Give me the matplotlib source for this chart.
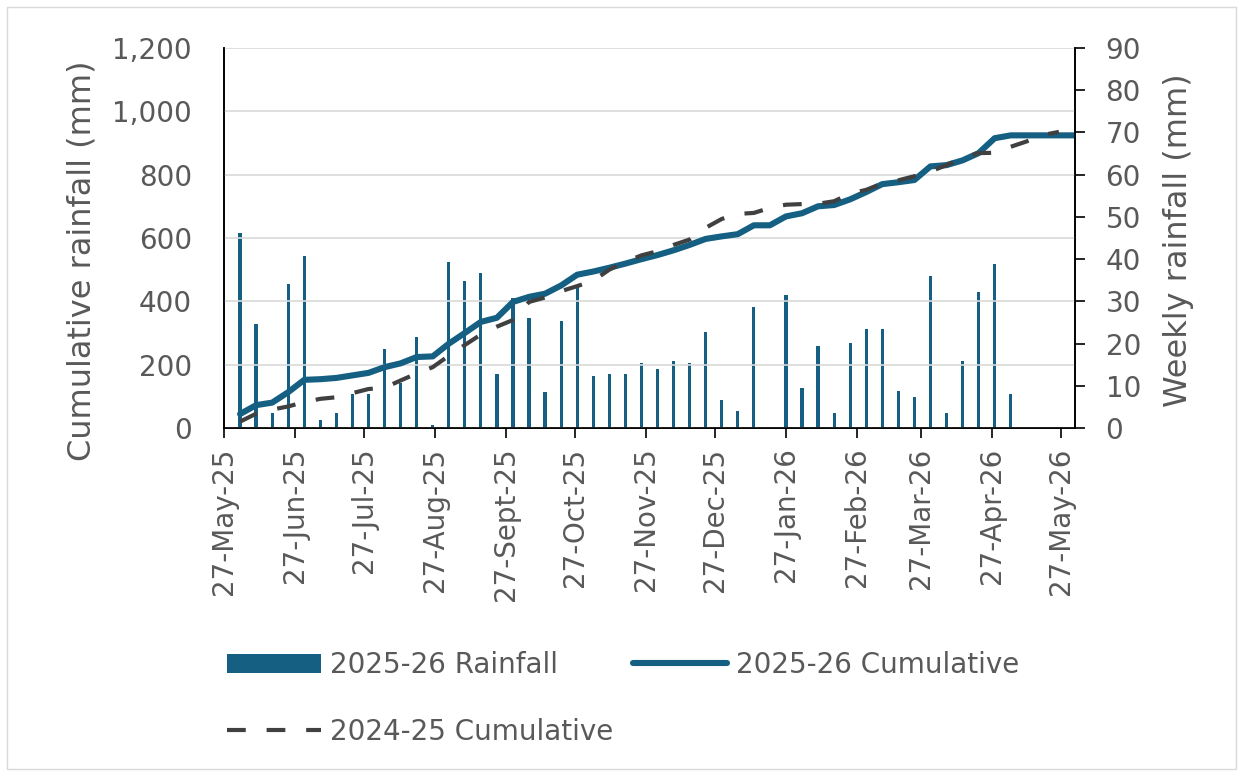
import matplotlib
matplotlib.use('Agg')
import matplotlib.pyplot as plt
import matplotlib.ticker as mticker
import pandas as pd
from matplotlib.patches import Rectangle

# semanas (martes) de la temporada 2025-26
semanas = pd.date_range('2025-06-03', periods=53, freq='7D')

lluvia_2526 = [46.1, 24.6, 3.5, 34.1, 40.8, 2.0, 3.5, 8.0, 8.0, 18.7,
               10.6, 21.5, 0.7, 39.4, 34.8, 36.8, 12.8, 30.7, 26.0, 8.6,
               25.4, 33.9, 12.2, 12.7, 12.7, 15.3, 14.0, 15.9, 15.3, 22.7,
               6.6, 4.0, 28.7, 0.0, 31.4, 9.4, 19.4, 3.5, 20.1, 23.5,
               23.5, 8.8, 7.4, 36.1, 3.5, 15.9, 32.2, 38.8, 8.1]

acum_2526 = [44, 72, 80, 113, 152, 154, 158, 166, 174, 192,
             204, 224, 226, 266, 300, 335, 348, 398, 414, 424,
             450, 484, 494, 506, 519, 533, 546, 561, 578, 597,
             605, 612, 640, 640, 668, 678, 700, 704, 722, 745,
             770, 776, 783, 826, 830, 845, 868, 915, 924, 924,
             924, 924, 924]

acum_2425 = [20, 45, 58, 68, 82, 92, 97, 110, 123, 127,
             150, 172, 192, 228, 262, 295, 320, 341, 398, 412,
             432, 448, 465, 500, 525, 545, 558, 578, 595, 632,
             660, 676, 679, 695, 705, 707, 708, 716, 740, 752,
             772, 782, 795, 810, 830, 852, 868, 869, 888, 905,
             925, 935]

fechas_ticks = ['2025-05-27', '2025-06-27', '2025-07-27', '2025-08-27', '2025-09-27',
                '2025-10-27', '2025-11-27', '2025-12-27', '2026-01-27', '2026-02-27',
                '2026-03-27', '2026-04-27', '2026-05-27']
etiquetas_ticks = ['27-May-25', '27-Jun-25', '27-Jul-25', '27-Aug-25', '27-Sept-25',
                   '27-Oct-25', '27-Nov-25', '27-Dec-25', '27-Jan-26', '27-Feb-26',
                   '27-Mar-26', '27-Apr-26', '27-May-26']

azul = '#156082'
gris_texto = '#595959'

fig = plt.figure(figsize=(12.43, 7.76), dpi=100)
ax = fig.add_axes([0.1802, 0.4485, 0.6846, 0.4897])
ax2 = ax.twinx()
ax.set_zorder(ax2.get_zorder() + 1)
ax.patch.set_visible(False)

# barras semanales (eje derecho)
barras = ax2.bar(semanas[:len(lluvia_2526)], lluvia_2526, width=1.4, color=azul,
                 label='2025-26 Rainfall')

# acumulados (eje izquierdo)
linea_25, = ax.plot(semanas[:len(acum_2526)], acum_2526, color=azul, lw=4.4,
                    solid_joinstyle='round', solid_capstyle='round',
                    label='2025-26 Cumulative')
linea_24, = ax.plot(semanas[:len(acum_2425)], acum_2425, color='#404040', lw=3,
                    dashes=(4.5, 5), label='2024-25 Cumulative')

ax.set_xlim(pd.Timestamp('2025-05-27'), pd.Timestamp('2026-06-02'))
ax.set_ylim(0, 1200)
ax2.set_ylim(0, 90)
ax.set_yticks(range(0, 1201, 200))
ax2.set_yticks(range(0, 91, 10))
ax.yaxis.set_major_formatter(mticker.FuncFormatter(lambda v, p: f'{int(v):,}'))

ax.set_xticks(pd.to_datetime(fechas_ticks))
ax.set_xticklabels(etiquetas_ticks, rotation=90)

ax.yaxis.grid(True, color='#D9D9D9', lw=1.2)
ax.set_axisbelow(True)

for a in (ax, ax2):
    a.spines['top'].set_visible(False)
    for s in ('left', 'right', 'bottom'):
        a.spines[s].set_linewidth(1.2)
        a.spines[s].set_color('black')

ax.tick_params(axis='y', length=0, pad=23, labelsize=20, labelcolor=gris_texto)
ax.tick_params(axis='x', length=7, width=1.2, pad=7, labelsize=20, labelcolor=gris_texto)
ax2.tick_params(axis='y', length=7, width=1.2, pad=15, labelsize=20, labelcolor=gris_texto)

ax.set_ylabel('Cumulative rainfall (mm)', fontsize=23, color=gris_texto)
ax.yaxis.set_label_coords(-0.149, 0.44)
ax2.set_ylabel('Weekly rainfall (mm)', fontsize=23, color=gris_texto)
ax2.yaxis.set_label_coords(1.103, 0.495)

fig.legend(handles=[barras, linea_24, linea_25], loc='upper left',
           bbox_to_anchor=(227 / 1243, 1 - 651 / 776), ncol=2, frameon=False,
           fontsize=20, labelcolor=gris_texto, borderpad=0, borderaxespad=0,
           handlelength=3.4, handletextpad=0.32, columnspacing=0.7, labelspacing=1.4)

# borde del area del grafico
fig.patches.append(Rectangle((7 / 1243, 7 / 776), 1229 / 1243, 762 / 776,
                             transform=fig.transFigure, fill=False,
                             edgecolor='#D9D9D9', lw=1))

fig.savefig('out.png', dpi=100)
